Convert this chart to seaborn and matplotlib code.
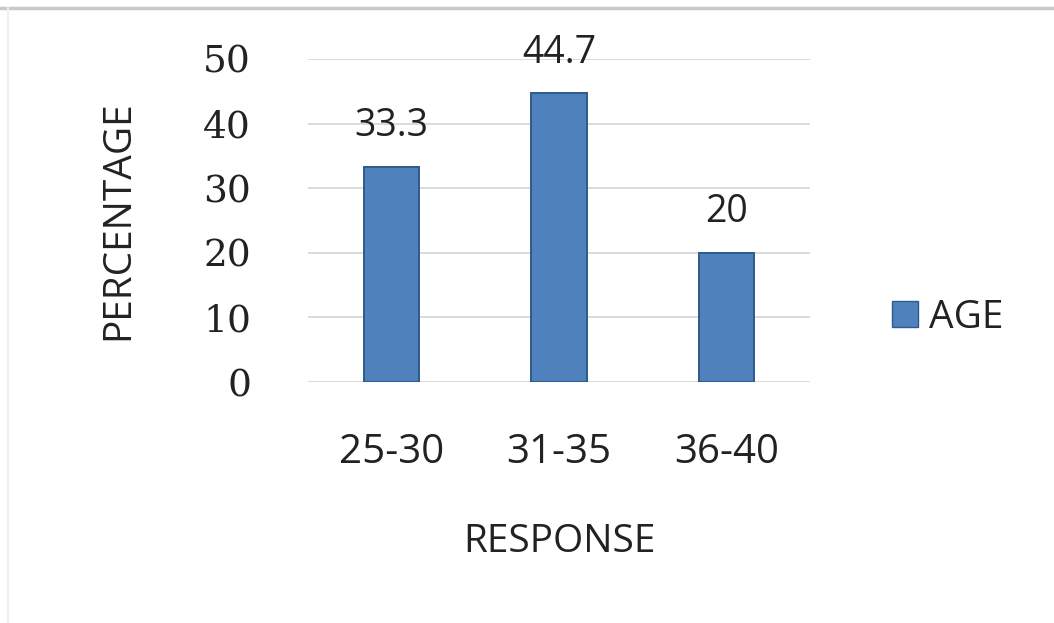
import matplotlib
matplotlib.use("Agg")
import matplotlib.pyplot as plt
from matplotlib.lines import Line2D
from matplotlib.patches import Patch
import pandas as pd
import seaborn as sns

# Chart data
categories = ["25-30", "31-35", "36-40"]
percentages = [33.3, 44.7, 20]
series_name = "AGE"
y_ticks = [0, 10, 20, 30, 40, 50]

BAR_COLOR = "#4F81BD"
EDGE_COLOR = "#2F5A8C"
TEXT_COLOR = "#222222"
GRID_COLOR = "#D4D4D4"
SANS = ["Open Sans", "DejaVu Sans"]
SERIF = ["DejaVu Serif"]

sns.set_theme(style="white")
plt.rcParams["font.family"] = SANS

df = pd.DataFrame({"group": categories, "value": percentages})

fig = plt.figure(figsize=(10.54, 6.23), dpi=100)
ax = fig.add_axes([0.2922, 0.3868, 0.4763, 0.5185])

sns.barplot(data=df, x="group", y="value", color=BAR_COLOR, width=0.33,
            edgecolor=EDGE_COLOR, linewidth=1.4, saturation=1, ax=ax, zorder=3)

ax.set_ylim(0, 50)
ax.set_yticks(y_ticks)
ax.set_yticklabels([str(t) for t in y_ticks], family=SERIF, fontsize=27,
                   color=TEXT_COLOR)
ax.set_xticks(range(len(categories)))
ax.set_xticklabels(categories, fontsize=29, color=TEXT_COLOR)
ax.tick_params(axis="y", length=0, pad=41)
ax.tick_params(axis="x", length=0, pad=36)

ax.yaxis.grid(True, color=GRID_COLOR, linewidth=1.2, zorder=0)
ax.xaxis.grid(False)
for s in ax.spines.values():
    s.set_visible(False)

ax.set_ylabel("PERCENTAGE", fontsize=28, color=TEXT_COLOR)
ax.yaxis.set_label_coords(-0.341, 0.5)
ax.set_xlabel("RESPONSE", fontsize=28, color=TEXT_COLOR)
ax.xaxis.set_label_coords(0.5, -0.437)

# value labels above each bar
for i, v in enumerate(percentages):
    ax.annotate(f"{v:g}", xy=(i, v), xytext=(0, 22), textcoords="offset points",
                ha="center", va="baseline", fontsize=27, color=TEXT_COLOR)

handles = [Patch(facecolor=BAR_COLOR, edgecolor=EDGE_COLOR, linewidth=1)]
fig.legend(handles, [series_name], loc="center left",
           bbox_to_anchor=(0.846, 0.49), frameon=False, fontsize=28,
           handlelength=0.67, handleheight=0.67, handletextpad=0.3,
           borderpad=0, borderaxespad=0, labelcolor=TEXT_COLOR)

# faint frame edges of the chart area
fig.add_artist(Line2D([0.0, 1.0], [0.987, 0.987], color="#C9C9C9",
                      linewidth=2.5, transform=fig.transFigure))
fig.add_artist(Line2D([0.008, 0.008], [0.0, 0.987], color="#EEEEEE",
                      linewidth=1.5, transform=fig.transFigure))

fig.savefig("out.png", dpi=100, facecolor="white")
